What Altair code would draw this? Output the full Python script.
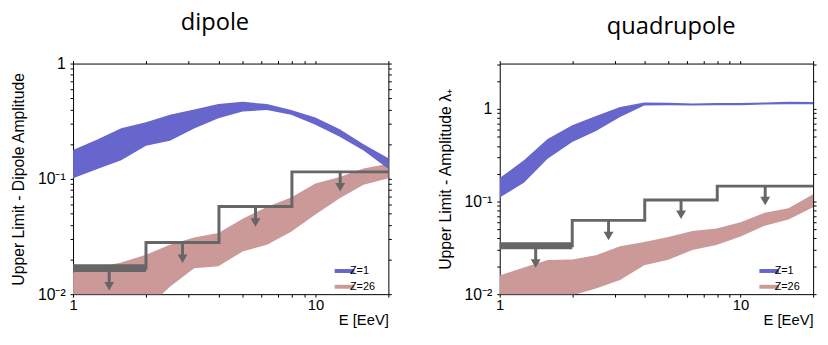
import altair as alt
import pandas as pd

# ---------------- data ----------------
E = [1.0, 1.26, 1.58, 2.0, 2.51, 3.16, 3.98, 5.01, 6.31, 7.94, 10.0, 12.6, 15.8, 20.0]

dip_z1_hi = [0.178, 0.22, 0.275, 0.31, 0.36, 0.40, 0.445, 0.466, 0.445, 0.396, 0.34, 0.27, 0.20, 0.151]
dip_z1_lo = [0.101, 0.122, 0.145, 0.194, 0.214, 0.274, 0.336, 0.383, 0.396, 0.36, 0.295, 0.232, 0.176, 0.122]
dip_z26_hi = [0.0154, 0.017, 0.0188, 0.022, 0.0268, 0.031, 0.034, 0.045, 0.057, 0.069, 0.091, 0.104, 0.123, 0.135]
dip_z26_lo = [0.0015, 0.0025, 0.004, 0.0074, 0.0116, 0.0168, 0.0175, 0.0235, 0.0268, 0.0347, 0.049, 0.068, 0.089, 0.101]

quad_z1_hi = [0.18, 0.28, 0.475, 0.67, 0.84, 1.05, 1.18, 1.17, 1.15, 1.16, 1.16, 1.18, 1.2, 1.19]
quad_z1_lo = [0.111, 0.16, 0.29, 0.44, 0.58, 0.82, 1.09, 1.1, 1.09, 1.1, 1.1, 1.12, 1.13, 1.13]
quad_z26_hi = [0.0159, 0.0194, 0.0234, 0.0237, 0.0264, 0.033, 0.0365, 0.0415, 0.048, 0.0513, 0.060, 0.076, 0.085, 0.12]
quad_z26_lo = [0.008, 0.0085, 0.009, 0.0097, 0.0115, 0.0142, 0.0205, 0.0235, 0.030, 0.034, 0.042, 0.055, 0.064, 0.087]

bin_edges = [1, 2, 4, 8, 20]
arrow_E = [1.41, 2.83, 5.66, 12.65]
dip_limit = [0.0168, 0.028, 0.0576, 0.115]
dip_arrow_end = [0.0117, 0.0203, 0.0419, 0.0844]
quad_limit = [0.0334, 0.0627, 0.104, 0.147]
quad_arrow_end = [0.0214, 0.0425, 0.072, 0.1016]

series = ["Z=1", "Z=26"]
colors = ["#6666cc", "#cc9999"]

x_ticks = [1, 2, 3, 4, 5, 6, 7, 8, 9, 10, 20]
y_ticks_dip = [0.01 * k for k in range(1, 10)] + [0.1 * k for k in range(1, 10)] + [1]
y_ticks_quad = y_ticks_dip + [2, 3]

LINE = "#666666"
FONT = "Liberation Sans"
LBL = "datum.value === 1 ? '1' : datum.value === 0.1 ? '10⁻¹' : datum.value === 0.01 ? '10⁻²' : ''"
XLBL = "datum.value === 1 ? '1' : datum.value === 10 ? '10' : ''"
HEIGHT = 234


def panel(title, dx, ytitle, ymax, yticks, z1_lo, z1_hi, z26_lo, z26_hi, limit, arrow_end, thick, width):
    n = len(E)
    band = pd.DataFrame({
        "E": E + E,
        "lo": z1_lo + z26_lo,
        "hi": z1_hi + z26_hi,
        "series": [series[0]] * n + [series[1]] * n,
    })
    steps = pd.DataFrame({"E": bin_edges, "v": limit + [limit[-1]]})
    first = pd.DataFrame({"E": [bin_edges[0]], "E2": [bin_edges[1]], "v": [limit[0]]})
    arrows = pd.DataFrame({"E": arrow_E, "v": limit, "end": arrow_end})

    xs = alt.Scale(type="log", domain=[1, 20], nice=False)
    ys = alt.Scale(type="log", domain=[0.01, ymax], nice=False)

    legend = alt.Legend(
        title=None, orient="none", legendX=width - 52, legendY=205, padding=0,
        symbolType="M-1.6,-0.4L2.4,-0.4L2.4,0.4L-1.6,0.4Z", symbolSize=100,
        symbolStrokeWidth=0, labelFont=FONT, labelFontSize=11, labelColor="black",
        labelOffset=2, rowPadding=4,
    )
    color = alt.Color("series:N", scale=alt.Scale(domain=series, range=colors), legend=legend)

    x_bottom = alt.X("E:Q", scale=xs, axis=alt.Axis(
        orient="bottom", values=x_ticks, labelExpr=XLBL, labelFlush=False,
        tickSize=3, labelPadding=1, labelFontSize=15, domain=False, grid=False,
        title="E [EeV]", titleFontSize=15, titleAnchor="end", titleAlign="right",
        titlePadding=0))
    y_left = alt.Y("lo:Q", scale=ys, axis=alt.Axis(
        orient="left", values=yticks, labelExpr=LBL, labelFlush=False,
        tickSize=3, labelPadding=5, domain=False, grid=False,
        title=ytitle, titlePadding=11))

    pink = alt.Chart(band).transform_filter(alt.datum.series == series[1]).mark_area(
        clip=True, opacity=1).encode(x=x_bottom, y=y_left, y2="hi:Q", color=color)
    blue = alt.Chart(band).transform_filter(alt.datum.series == series[0]).mark_area(
        clip=True, opacity=1).encode(
        x=alt.X("E:Q", scale=xs, axis=None), y=alt.Y("lo:Q", scale=ys, axis=None),
        y2="hi:Q", color=color)

    step = alt.Chart(steps).mark_line(interpolate="step-after", color=LINE, strokeWidth=3).encode(
        x=alt.X("E:Q", scale=xs, axis=alt.Axis(
            orient="top", values=x_ticks, labels=False, tickSize=3, domain=False,
            grid=False, title=None)),
        y=alt.Y("v:Q", scale=ys, axis=alt.Axis(
            orient="right", values=yticks, labels=False, tickSize=3, domain=False,
            grid=False, title=None)),
    )
    thick_first = alt.Chart(first).mark_rule(color=LINE, strokeWidth=thick).encode(
        x=alt.X("E:Q", scale=xs, axis=None), x2="E2:Q",
        y=alt.Y("v:Q", scale=ys, axis=None))
    shafts = alt.Chart(arrows).mark_rule(color=LINE, strokeWidth=3).encode(
        x=alt.X("E:Q", scale=xs, axis=None),
        y=alt.Y("v:Q", scale=ys, axis=None), y2="end:Q")
    heads = alt.Chart(arrows).mark_point(
        shape="triangle-down", filled=True, size=100, color=LINE, opacity=1).encode(
        x=alt.X("E:Q", scale=xs, axis=None),
        y=alt.Y("end:Q", scale=ys, axis=None))

    return alt.layer(pink, blue, step, thick_first, shafts, heads).resolve_axis(
        x="independent", y="independent"
    ).properties(
        width=width, height=HEIGHT,
        title=alt.Title(title, font="Open Sans", fontSize=24, fontWeight="normal",
                        color="black", frame="group", anchor="middle", dx=dx,
                        offset=21),
    )


left = panel("dipole", -16, "Upper Limit - Dipole Amplitude", 1.0, y_ticks_dip,
             dip_z1_lo, dip_z1_hi, dip_z26_lo, dip_z26_hi, dip_limit, dip_arrow_end, 8, 320)
right = panel("quadrupole", 15, "Upper Limit - Amplitude λ₊", 3.1, y_ticks_quad,
              quad_z1_lo, quad_z1_hi, quad_z26_lo, quad_z26_hi, quad_limit, quad_arrow_end, 7, 318)

chart = alt.hconcat(left, right, spacing=42).resolve_scale(color="independent").properties(
    padding={"left": 2, "top": 0, "right": 0, "bottom": 0}
).configure_view(stroke="black", strokeWidth=1).configure_axis(
    labelFont=FONT, labelFontSize=16, labelColor="black",
    titleFont=FONT, titleFontSize=16, titleFontWeight="normal", titleColor="black",
    tickColor="black", tickWidth=1,
)

chart.save("out.html", embed_options={"renderer": "svg", "actions": False})
